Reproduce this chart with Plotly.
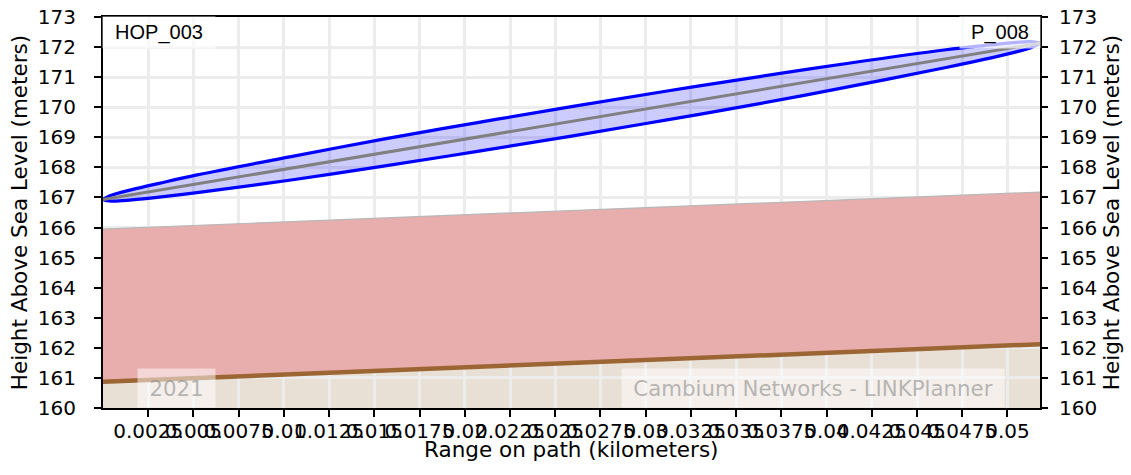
import plotly.graph_objects as go

# ---------------- data ----------------
x_max_km = 0.0518
y_min, y_max = 160, 173

# terrain profile (brown line) and clearance zone top (red area)
terrain_x = [0.0, 0.01, 0.02, 0.03, 0.04, 0.0518]
terrain_h = [160.87, 161.11, 161.35, 161.58, 161.82, 162.12]
clear_top_h = [165.95, 166.19, 166.43, 166.66, 166.90, 167.18]

# line of sight (grey)
los_x = [0.0, 0.0518]
los_h = [166.93, 172.13]

# Fresnel zone (blue ellipse) upper / lower edges
fres_x = [0.0, 0.0005, 0.0016, 0.0031, 0.0052, 0.0104, 0.0155, 0.0207, 0.0259,
          0.0311, 0.0363, 0.0414, 0.0466, 0.0487, 0.0502, 0.0513, 0.0518]
fres_upper = [166.93, 167.08, 167.26, 167.47, 167.75, 168.36, 168.94, 169.49, 170.02,
              170.53, 171.02, 171.48, 171.91, 172.05, 172.14, 172.18, 172.13]
fres_lower = [166.93, 166.88, 166.92, 167.01, 167.16, 167.58, 168.04, 168.53, 169.04,
              169.57, 170.12, 170.70, 171.32, 171.59, 171.80, 171.98, 172.13]

x_tick_vals = [0.0025, 0.005, 0.0075, 0.01, 0.0125, 0.015, 0.0175, 0.02, 0.0225, 0.025,
               0.0275, 0.03, 0.0325, 0.035, 0.0375, 0.04, 0.0425, 0.045, 0.0475, 0.05]
x_tick_text = ["0.0025", "0.005", "0.0075", "0.01", "0.0125", "0.015", "0.0175", "0.02",
               "0.0225", "0.025", "0.0275", "0.03", "0.0325", "0.035", "0.0375", "0.04",
               "0.0425", "0.045", "0.0475", "0.05"]
y_tick_vals = list(range(160, 174))

site_left = "HOP_003"
site_right = "P_008"
x_title = "Range on path (kilometers)"
y_title = "Height Above Sea Level (meters)"
watermark_year = "2021"
watermark_text = "Cambium Networks - LINKPlanner"

# ---------------- figure ----------------
FONT = "DejaVu Sans"
fig = go.Figure()

# subplot 1 (bottom layer): terrain fill
fig.add_trace(go.Scatter(x=terrain_x, y=terrain_h, mode="lines", line=dict(width=0),
                         fill="tozeroy", fillcolor="#e8dfd5", hoverinfo="skip",
                         showlegend=False, xaxis="x", yaxis="y"))

# subplot 2 (upper layer): grid, clearance zone, lines
fig.add_trace(go.Scatter(x=terrain_x, y=terrain_h, mode="lines", line=dict(width=0),
                         hoverinfo="skip", showlegend=False, xaxis="x2", yaxis="y2"))
fig.add_trace(go.Scatter(x=terrain_x, y=clear_top_h, mode="lines",
                         line=dict(color="#b8b8b8", width=1.2),
                         fill="tonexty", fillcolor="#e8adad",
                         showlegend=False, xaxis="x2", yaxis="y2"))
fig.add_trace(go.Scatter(x=terrain_x, y=terrain_h, mode="lines",
                         line=dict(color="#9c6634", width=4.5),
                         showlegend=False, xaxis="x2", yaxis="y2"))
fig.add_trace(go.Scatter(x=fres_x + fres_x[::-1], y=fres_upper + fres_lower[::-1],
                         mode="lines", line=dict(color="#0000ff", width=3.2, shape="spline",
                                                 smoothing=1.0),
                         fill="toself", fillcolor="rgba(0,0,255,0.2)",
                         showlegend=False, xaxis="x2", yaxis="y2"))
fig.add_trace(go.Scatter(x=los_x, y=los_h, mode="lines",
                         line=dict(color="#808080", width=3),
                         showlegend=False, xaxis="x2", yaxis="y2"))

tickfont = dict(family=FONT, size=20, color="black")
titlefont = dict(family=FONT, size=21.5, color="black")
grid_col = "#ececec"

fig.update_layout(
    width=1131, height=475,
    margin=dict(l=103, r=91, t=17, b=67, autoexpand=False),
    paper_bgcolor="white", plot_bgcolor="rgba(0,0,0,0)",
    showlegend=False,
    xaxis=dict(domain=[0, 1], range=[0, x_max_km], visible=False, showgrid=False,
               anchor="y", automargin=False),
    yaxis=dict(domain=[0, 1], range=[y_min, y_max], anchor="x", side="right",
               showgrid=False, zeroline=False, showline=False, automargin=False,
               tickvals=y_tick_vals, ticks="outside", ticklen=7, tickwidth=2,
               tickcolor="black", tickfont=tickfont, ticklabelstandoff=7,
               ticklabeloverflow="allow",
               title=dict(text=y_title, font=titlefont, standoff=7)),
    xaxis2=dict(domain=[0, 1], range=[0, x_max_km], anchor="y2", automargin=False,
                tickvals=x_tick_vals, ticktext=x_tick_text, tickangle=0,
                ticks="outside", ticklen=7, tickwidth=2, tickcolor="black",
                tickfont=tickfont, ticklabelstandoff=-3, ticklabeloverflow="allow",
                showgrid=True, gridcolor=grid_col, gridwidth=3,
                zeroline=False, showline=True, linecolor="black", linewidth=2,
                mirror=True, layer="above traces"),
    yaxis2=dict(domain=[0, 1], range=[y_min, y_max], anchor="x2", side="left",
                automargin=False,
                tickvals=y_tick_vals, ticks="outside", ticklen=7, tickwidth=2,
                tickcolor="black", tickfont=tickfont, ticklabelstandoff=14,
                ticklabeloverflow="allow", showgrid=True,
                gridcolor=grid_col, gridwidth=3, zeroline=False, showline=True,
                linecolor="black", linewidth=2, mirror=True, layer="above traces",
                title=dict(text=y_title, font=titlefont, standoff=4)),
)

fig.add_annotation(xref="paper", yref="paper", x=0.5, y=0, text=x_title,
                   xanchor="center", yanchor="top", yshift=-27, showarrow=False,
                   font=titlefont)

label_font = dict(family="Liberation Sans, Arial", size=20, color="black")
wm_font = dict(family=FONT, size=21.3, color="rgba(140,140,140,0.6)")

fig.add_annotation(xref="paper", yref="paper", x=0.0598, y=0.9604, text=site_left,
                   xanchor="center", yanchor="middle",
                   showarrow=False, font=label_font, width=112, height=31,
                   borderpad=0, bgcolor="rgba(255,255,255,0.7)", align="center")
fig.add_annotation(xref="paper", yref="paper", x=0.957, y=0.9604, text=site_right,
                   xanchor="center", yanchor="middle",
                   showarrow=False, font=label_font, width=80, height=31,
                   borderpad=0, bgcolor="rgba(255,255,255,0.7)", align="center")
fig.add_annotation(xref="paper", yref="paper", x=0.0784, y=0.0524, text=watermark_year,
                   xanchor="center", yanchor="middle",
                   showarrow=False, font=wm_font, width=77, height=38, borderpad=0,
                   bgcolor="rgba(255,255,255,0.5)", align="center")
fig.add_annotation(xref="paper", yref="paper", x=0.7577, y=0.0524, text=watermark_text,
                   xanchor="center", yanchor="middle",
                   showarrow=False, font=wm_font, width=382, height=38, borderpad=0,
                   bgcolor="rgba(255,255,255,0.5)", align="center")

# remove the browser's default 8px body margin so the figure fills the window
fig.write_html("out.html",
               config={"displayModeBar": False},
               post_script="document.body.style.margin='0';"
                           "document.body.style.overflow='hidden';")
